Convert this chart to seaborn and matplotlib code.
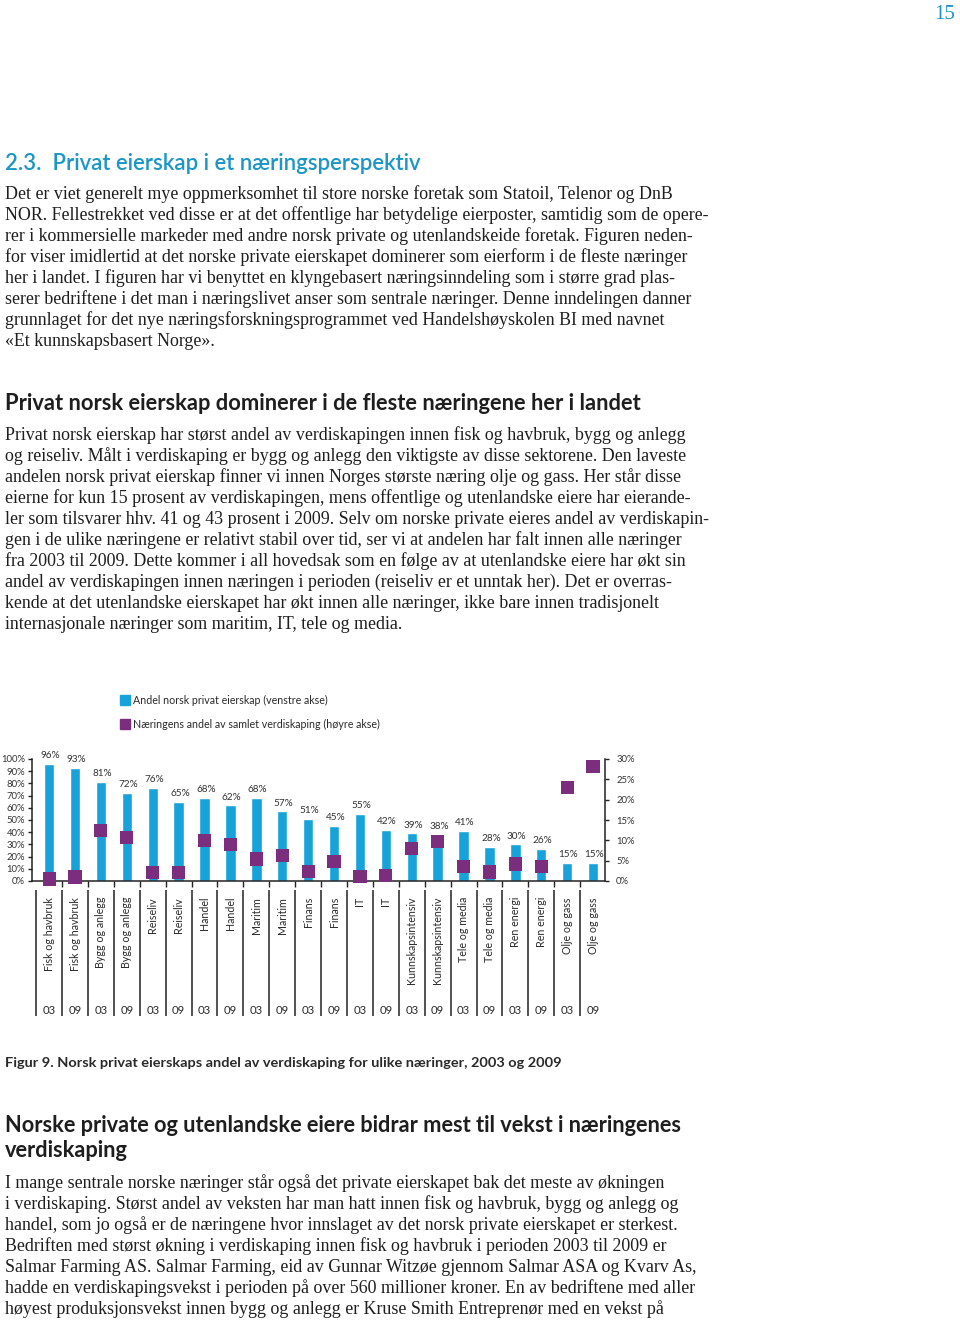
import numpy as np
import pandas as pd
import matplotlib
matplotlib.use("Agg")
import matplotlib.pyplot as plt
import seaborn as sns
from matplotlib.patches import Rectangle

# chart data
naeringer = ["Fisk og havbruk", "Bygg og anlegg", "Reiseliv", "Handel", "Maritim", "Finans",
             "IT", "Kunnskapsintensiv", "Tele og media", "Ren energi", "Olje og gass"]
aar = ["03", "09"]
privat_andel = [96, 93, 81, 72, 76, 65, 68, 62, 68, 57, 51, 45, 55, 42, 39, 38, 41, 28, 30, 26, 15, 15]
verdiskaping_andel = [0.5, 1.0, 12.4, 10.7, 2.0, 2.0, 10.0, 9.0, 5.4, 6.2, 2.3, 4.8,
                      1.2, 1.4, 8.0, 9.8, 3.6, 2.2, 4.2, 3.6, 22.9, 28.1]
venstre_ticks = list(range(0, 101, 10))
hoyre_ticks = list(range(0, 31, 5))
legend_labels = ["Andel norsk privat eierskap (venstre akse)",
                 "Næringens andel av samlet verdiskaping (høyre akse)"]

# page text
tittel = "2.3.  Privat eierskap i et næringsperspektiv"
avsnitt1 = [
    "Det er viet generelt mye oppmerksomhet til store norske foretak som Statoil, Telenor og DnB",
    "NOR. Fellestrekket ved disse er at det offentlige har betydelige eierposter, samtidig som de opere-",
    "rer i kommersielle markeder med andre norsk private og utenlandskeide foretak. Figuren neden-",
    "for viser imidlertid at det norske private eierskapet dominerer som eierform i de fleste næringer",
    "her i landet. I figuren har vi benyttet en klyngebasert næringsinndeling som i større grad plas-",
    "serer bedriftene i det man i næringslivet anser som sentrale næringer. Denne inndelingen danner",
    "grunnlaget for det nye næringsforskningsprogrammet ved Handelshøyskolen BI med navnet",
    "«Et kunnskapsbasert Norge».",
]
overskrift1 = "Privat norsk eierskap dominerer i de fleste næringene her i landet"
avsnitt2 = [
    "Privat norsk eierskap har størst andel av verdiskapingen innen fisk og havbruk, bygg og anlegg",
    "og reiseliv. Målt i verdiskaping er bygg og anlegg den viktigste av disse sektorene. Den laveste",
    "andelen norsk privat eierskap finner vi innen Norges største næring olje og gass. Her står disse",
    "eierne for kun 15 prosent av verdiskapingen, mens offentlige og utenlandske eiere har eierande-",
    "ler som tilsvarer hhv. 41 og 43 prosent i 2009. Selv om norske private eieres andel av verdiskapin-",
    "gen i de ulike næringene er relativt stabil over tid, ser vi at andelen har falt innen alle næringer",
    "fra 2003 til 2009. Dette kommer i all hovedsak som en følge av at utenlandske eiere har økt sin",
    "andel av verdiskapingen innen næringen i perioden (reiseliv er et unntak her). Det er overras-",
    "kende at det utenlandske eierskapet har økt innen alle næringer, ikke bare innen tradisjonelt",
    "internasjonale næringer som maritim, IT, tele og media.",
]
figurtekst = "Figur 9. Norsk privat eierskaps andel av verdiskaping for ulike næringer, 2003 og 2009"
overskrift2 = ["Norske private og utenlandske eiere bidrar mest til vekst i næringenes",
               "verdiskaping"]
avsnitt3 = [
    "I mange sentrale norske næringer står også det private eierskapet bak det meste av økningen",
    "i verdiskaping. Størst andel av veksten har man hatt innen fisk og havbruk, bygg og anlegg og",
    "handel, som jo også er de næringene hvor innslaget av det norsk private eierskapet er sterkest.",
    "Bedriften med størst økning i verdiskaping innen fisk og havbruk i perioden 2003 til 2009 er",
    "Salmar Farming AS. Salmar Farming, eid av Gunnar Witzøe gjennom Salmar ASA og Kvarv As,",
    "hadde en verdiskapingsvekst i perioden på over 560 millioner kroner. En av bedriftene med aller",
    "høyest produksjonsvekst innen bygg og anlegg er Kruse Smith Entreprenør med en vekst på",
]

BLA = "#17a2d9"
LILLA = "#7b2e7d"
TEAL = "#1b96c6"
TEKST = "#1e1e1e"
SANS = "Lato"
SERIF = "Liberation Serif"

W, H = 960, 1322
sns.set_style("white")
fig = plt.figure(figsize=(W / 100, H / 100), dpi=100)
renderer = fig.canvas.get_renderer()


def fx(x):
    return x / W


def fy(y):
    return 1 - y / H


def fit(s, width, family, weight="normal", base=10):
    # font size that makes the string the given pixel width
    t = fig.text(0, 0, s, fontsize=base, family=family, weight=weight)
    w = t.get_window_extent(renderer).width
    t.remove()
    return base * width / w


def put(x, y, s, size, family=SERIF, color=TEKST, weight="normal", **kw):
    return fig.text(fx(x), fy(y), s, fontsize=size, family=family, color=color,
                    weight=weight, va="baseline", **kw)


# ---- page text ----
put(955, 19, "15", 15, family=SERIF, color=TEAL, ha="right")
put(5, 170, tittel, fit(tittel, 417, SANS, "semibold"), family=SANS, color=TEAL, weight="semibold")

body = fit(avsnitt1[0], 668, SERIF)
for k, line in enumerate(avsnitt1):
    put(5, 199 + 21 * k, line, body)

put(5, 410, overskrift1, fit(overskrift1, 638, SANS, "bold"), family=SANS, weight="bold")
for k, line in enumerate(avsnitt2):
    put(5, 440 + 21 * k, line, body)

put(5, 1067, figurtekst, fit(figurtekst, 556, SANS, "bold"), family=SANS, color="#2a2a2a", weight="bold")
h2 = fit(overskrift2[0], 678, SANS, "bold")
put(5, 1132, overskrift2[0], h2, family=SANS, weight="bold")
put(5, 1157, overskrift2[1], h2, family=SANS, weight="bold")
for k, line in enumerate(avsnitt3):
    put(5, 1188 + 21 * k, line, body)

# ---- legend ----
leg_size = fit(legend_labels[1], 245, SANS)
for k, (lab, col) in enumerate(zip(legend_labels, [BLA, LILLA])):
    yc = 700 + 24 * k
    fig.patches.append(Rectangle((fx(120), fy(yc + 5)), 10 / W, 10 / H,
                                 transform=fig.transFigure, color=col))
    fig.text(fx(133), fy(yc), lab, fontsize=leg_size, family=SANS, color="#2a2a2a", va="center")

# ---- chart ----
df = pd.DataFrame({"pos": np.arange(len(privat_andel)),
                   "privat": privat_andel,
                   "verdi": verdiskaping_andel})

ax = fig.add_axes([fx(32), fy(881), (605 - 32) / W, 122 / H])
ax2 = ax.twinx()
sns.barplot(data=df, x="pos", y="privat", native_scale=True, color=BLA, saturation=1,
            width=0.4, ax=ax)
sns.scatterplot(data=df, x="pos", y="verdi", marker="s", s=90, color=LILLA,
                edgecolor="none", ax=ax2, zorder=3)
ax2.collections[0].set_clip_on(False)

ax.set_xlim(-0.66, 21.46)
ax.set_ylim(0, 100)
ax2.set_ylim(0, 30)
for a in (ax, ax2):
    a.set_xlabel("")
    a.set_ylabel("")
    for s in a.spines.values():
        s.set_visible(False)
        s.set_linewidth(1.1)
        s.set_color("#222222")
ax.spines["left"].set_visible(True)
ax.spines["bottom"].set_visible(True)
ax2.spines["right"].set_visible(True)

tick_size = 6.8
ax.set_yticks(venstre_ticks, [f"{v}%" for v in venstre_ticks])
ax2.set_yticks(hoyre_ticks, [f"{v}%" for v in hoyre_ticks])
ax.set_xticks(np.arange(0.5, 21, 1), [])
ax.tick_params(axis="y", length=3, width=1, pad=2, labelsize=tick_size, labelcolor="#333333",
               color="#222222", left=True)
ax2.tick_params(axis="y", length=3, width=1, pad=5, labelsize=tick_size, labelcolor="#333333",
                color="#222222", right=True)
ax.tick_params(axis="x", length=4, width=1, color="#222222", bottom=True)
for lab in ax.get_yticklabels() + ax2.get_yticklabels():
    lab.set_family(SANS)

for i, v in enumerate(privat_andel):
    ax.annotate(f"{v}%", (i, v), xytext=(1, 6), textcoords="offset points",
                ha="center", va="center", fontsize=7.2, family=SANS, color="#333333")

# ---- category / year labels below the chart ----
lab_ax = fig.add_axes([fx(32), fy(1018), (605 - 32) / W, (1018 - 886) / H], sharex=ax)
lab_ax.set_ylim(1018, 886)
lab_ax.axis("off")
lab_ax.vlines(np.arange(-0.5, len(privat_andel), 1), 890, 1016, color="#222222", lw=1.1)
for i in range(len(privat_andel)):
    lab_ax.text(i, 897, naeringer[i // 2], rotation=90, ha="center", va="top",
                fontsize=7.7, family=SANS, color="#2a2a2a")
    lab_ax.text(i, 1010, aar[i % 2], ha="center", va="center",
                fontsize=8.2, family=SANS, color="#2a2a2a")
ax.set_xlim(-0.66, 21.46)

fig.savefig("out.png", dpi=100)
